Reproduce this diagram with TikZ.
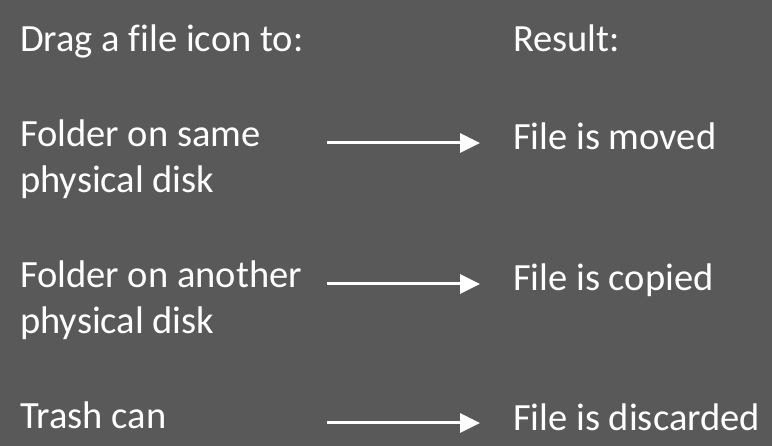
\documentclass[tikz,border=0pt]{standalone}
\usepackage{fontspec}
\setmainfont{Carlito}[Ligatures={NoCommon}]
\usetikzlibrary{positioning, arrows.meta}
\definecolor{slidegray}{HTML}{595959}
\tikzset{
	txt/.style={text=white, font=\fontsize{38.5}{46}\selectfont, inner sep=0pt, anchor=base west, align=left},
	link/.style={white, line width=3pt, shorten >=33pt, -{Triangle[length=20pt, width=19pt]}}
}

\begin{document}
\begin{tikzpicture}[x=1pt, y=-1pt]
\fill[slidegray] (0,0) rectangle (772,446);
\useasboundingbox (0,0) rectangle (772,446);
% headings
\node[txt] (drag) at (20,52) {Drag a file icon to:};
\node[txt] (result) at (513,52) {Result:};
% left column (base = last line)
\node[txt] (same) at (20,193) {Folder on same\\physical disk};
\node[txt] (other) at (20,334) {Folder on another\\physical disk};
\node[txt] (trash) at (20,429) {Trash can};
% right column
\node[txt] (moved) at (513,150) {File is moved};
\node[txt] (copied) at (513,291) {File is copied};
\node[txt] (discarded) at (513,431) {File is discarded};
% arrows
\coordinate (s1) at (327,143);
\coordinate (s2) at (327,284);
\coordinate (s3) at (327,423);
\draw[link] (s1) -- (s1 -| moved.west);
\draw[link] (s2) -- (s2 -| copied.west);
\draw[link] (s3) -- (s3 -| discarded.west);
\end{tikzpicture}
\end{document}
